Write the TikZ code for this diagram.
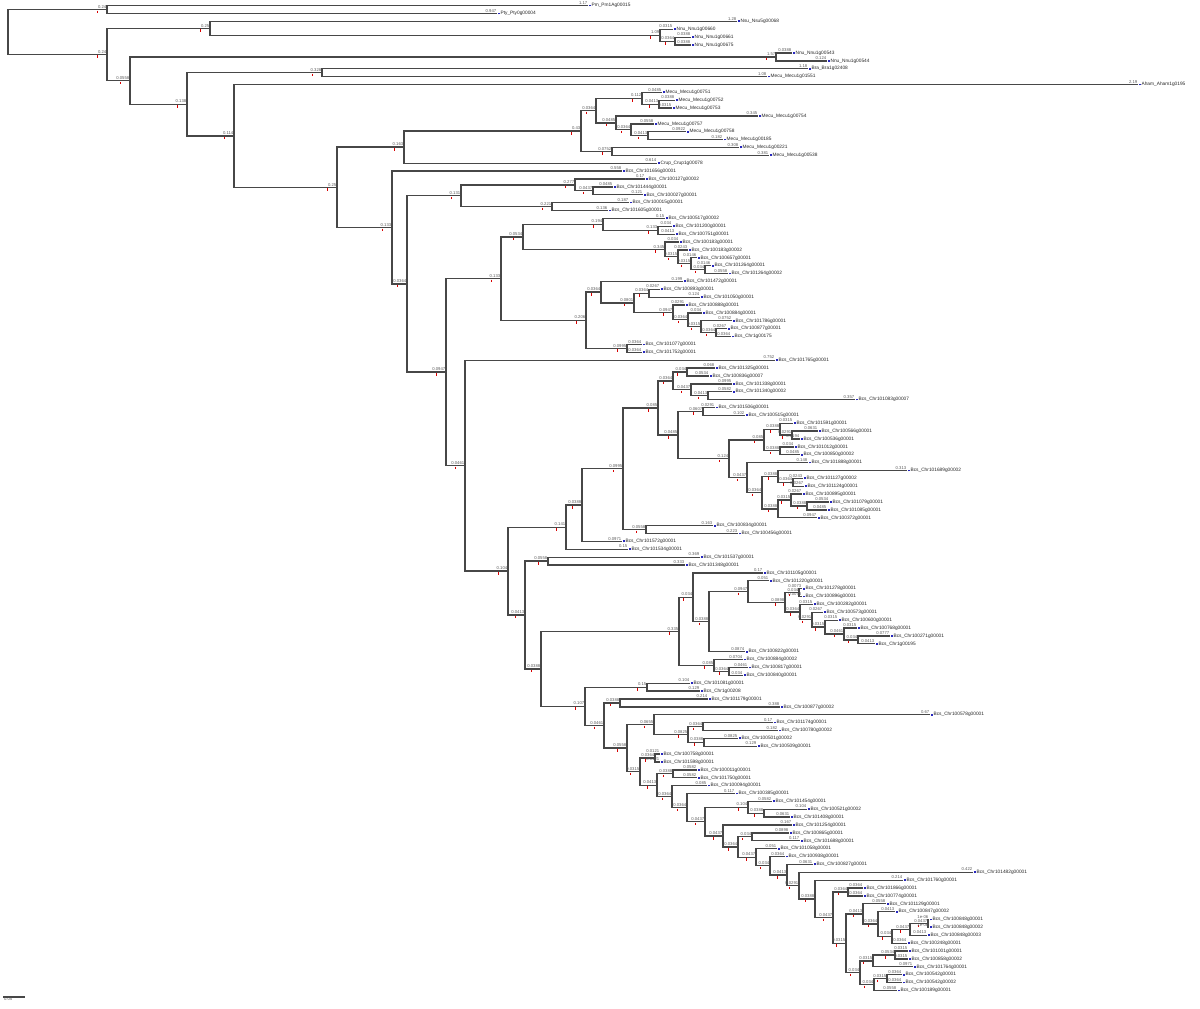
\documentclass[tikz,border=0pt]{standalone}
\usepackage{fontspec}
\setmainfont{Liberation Sans}
\usetikzlibrary{calc}

\definecolor{tipblue}{RGB}{40,40,190}
\newcommand{\tipfont}{\fontsize{2.4}{2.8}\selectfont}
\newcommand{\blenfont}{\fontsize{2.1}{2.4}\selectfont}
\pgfkeys{/pgf/number format/.cd,assume math mode=true}

% branch length label text, 3 significant digits
\newcommand{\lenfmt}[1]{\pgfmathsetmacro{\blval}{#1}%
  \ifdim\blval pt<0.003pt 1e-06\else
  \ifdim\blval pt<0.1pt \pgfmathprintnumber[fixed,precision=4]{\blval}\else
  \ifdim\blval pt<1pt \pgfmathprintnumber[fixed,precision=3]{\blval}\else
  \pgfmathprintnumber[fixed,precision=2]{\blval}\fi\fi\fi}

% leaf: name, row, tip x, gene id
\newcommand{\leaf}[4]{%
  \coordinate (#1) at (#3,{5.7+7.878*(#2-1)});
  \node[tip] (#1t) at (#1) {#4};}

% length of the branch parent -> child, written above it
\newcommand{\blen}[2]{%
  \path let \p1=(#1), \p2=(#2), \n1={(\x2-\x1)/206} in
    node[blen] at (#2) {\lenfmt{\n1}};}

% clade: name, x, upper child, lower child
\newcommand{\clade}[4]{%
  \path ($(#3)!.5!(#4)$) coordinate (m#1);
  \coordinate (#1) at (#2,0 |- m#1);
  \draw[branch] (#3) -| (#1) |- (#4);
  \draw[rtick] ($(#1)+(-10,1)$) -- ++(0,2.5);
  \blen{#1}{#3}\blen{#1}{#4}}

\begin{document}
\begin{tikzpicture}[x=0.5pt,y=-0.5pt,
    branch/.style={draw=black!72,line width=0.65pt},
    rtick/.style={draw=red!85!black,line width=0.35pt},
    blen/.style={anchor=south east,inner sep=0.2pt,yshift=0.25pt,font=\blenfont,text=black!65},
    tip/.style={anchor=west,inner xsep=0.3pt,inner ysep=0pt,font=\tipfont,text=black!85,
      execute at begin node={\textcolor{tipblue}{\rule[0.2pt]{0.9pt}{0.9pt}}\hspace{0.4pt}}}]
    \useasboundingbox (0,0) rectangle (1200,1008);

    % Leaves
    \leaf{t1}{1}{588}{Pm\_Pm1Ag00015}
    \leaf{t2}{2}{497}{Pty\_Pty0g00004}
    \leaf{t3}{3}{737}{Nsu\_Nsu5g00068}
    \leaf{t4}{4}{673}{Nnu\_Nnu1g00660}
    \leaf{t5}{5}{691}{Nnu\_Nnu1g00661}
    \leaf{t6}{6}{691}{Nnu\_Nnu1g00675}
    \leaf{t7}{7}{792}{Nnu\_Nnu1g00543}
    \leaf{t8}{8}{827}{Nnu\_Nnu1g00544}
    \leaf{t9}{9}{808}{Bra\_Bra1g02408}
    \leaf{t10}{10}{767}{Mecu\_Mecu1g01551}
    \leaf{t11}{11}{1138}{Aham\_Aham1g0195}
    \leaf{t12}{12}{662}{Mecu\_Mecu1g00751}
    \leaf{t13}{13}{675}{Mecu\_Mecu1g00752}
    \leaf{t14}{14}{672}{Mecu\_Mecu1g00753}
    \leaf{t15}{15}{758}{Mecu\_Mecu1g00754}
    \leaf{t16}{16}{654}{Mecu\_Mecu1g00757}
    \leaf{t17}{17}{686}{Mecu\_Mecu1g00758}
    \leaf{t18}{18}{723}{Mecu\_Mecu1g00185}
    \leaf{t19}{19}{739}{Mecu\_Mecu1g00221}
    \leaf{t20}{20}{769}{Mecu\_Mecu1g00538}
    \leaf{t21}{21}{657}{Crup\_Crup1g00078}
    \leaf{t22}{22}{622}{Bcs\_Chr101656g00001}
    \leaf{t23}{23}{645}{Bcs\_Chr100127g00002}
    \leaf{t24}{24}{613}{Bcs\_Chr101444g00001}
    \leaf{t25}{25}{643}{Bcs\_Chr100027g00001}
    \leaf{t26}{26}{629}{Bcs\_Chr100015g00001}
    \leaf{t27}{27}{608}{Bcs\_Chr101605g00001}
    \leaf{t28}{28}{665}{Bcs\_Chr100517g00002}
    \leaf{t29}{29}{672}{Bcs\_Chr101200g00001}
    \leaf{t30}{30}{675}{Bcs\_Chr100751g00001}
    \leaf{t31}{31}{679}{Bcs\_Chr100183g00001}
    \leaf{t32}{32}{688}{Bcs\_Chr100183g00002}
    \leaf{t33}{33}{697}{Bcs\_Chr100657g00001}
    \leaf{t34}{34}{711}{Bcs\_Chr101264g00001}
    \leaf{t35}{35}{728}{Bcs\_Chr101264g00002}
    \leaf{t36}{36}{683}{Bcs\_Chr101472g00001}
    \leaf{t37}{37}{660}{Bcs\_Chr100893g00001}
    \leaf{t38}{38}{700}{Bcs\_Chr101050g00001}
    \leaf{t39}{39}{685}{Bcs\_Chr100888g00001}
    \leaf{t40}{40}{702}{Bcs\_Chr100884g00001}
    \leaf{t41}{41}{732}{Bcs\_Chr101786g00001}
    \leaf{t42}{42}{727}{Bcs\_Chr100877g00001}
    \leaf{t43}{43}{731}{Bcs\_Chr1g00175}
    \leaf{t44}{44}{642}{Bcs\_Chr101077g00001}
    \leaf{t45}{45}{642}{Bcs\_Chr101752g00001}
    \leaf{t46}{46}{775}{Bcs\_Chr101765g00001}
    \leaf{t47}{47}{715}{Bcs\_Chr101325g00001}
    \leaf{t48}{48}{709}{Bcs\_Chr100836g00007}
    \leaf{t49}{49}{732}{Bcs\_Chr101338g00001}
    \leaf{t50}{50}{732}{Bcs\_Chr101340g00002}
    \leaf{t51}{51}{855}{Bcs\_Chr101083g00007}
    \leaf{t52}{52}{715}{Bcs\_Chr101506g00001}
    \leaf{t53}{53}{745}{Bcs\_Chr100515g00001}
    \leaf{t54}{54}{793}{Bcs\_Chr101591g00001}
    \leaf{t55}{55}{818}{Bcs\_Chr100566g00001}
    \leaf{t56}{56}{800}{Bcs\_Chr100536g00001}
    \leaf{t57}{57}{794}{Bcs\_Chr101012g00001}
    \leaf{t58}{58}{800}{Bcs\_Chr100850g00002}
    \leaf{t59}{59}{808}{Bcs\_Chr101888g00001}
    \leaf{t60}{60}{907}{Bcs\_Chr101689g00002}
    \leaf{t61}{61}{803}{Bcs\_Chr101127g00002}
    \leaf{t62}{62}{804}{Bcs\_Chr101124g00001}
    \leaf{t63}{63}{802}{Bcs\_Chr100895g00001}
    \leaf{t64}{64}{829}{Bcs\_Chr101079g00001}
    \leaf{t65}{65}{827}{Bcs\_Chr101085g00001}
    \leaf{t66}{66}{817}{Bcs\_Chr100372g00001}
    \leaf{t67}{67}{713}{Bcs\_Chr100834g00001}
    \leaf{t68}{68}{738}{Bcs\_Chr100456g00001}
    \leaf{t69}{69}{622}{Bcs\_Chr101572g00001}
    \leaf{t70}{70}{628}{Bcs\_Chr101534g00001}
    \leaf{t71}{71}{700}{Bcs\_Chr101537g00001}
    \leaf{t72}{72}{685}{Bcs\_Chr101348g00001}
    \leaf{t73}{73}{763}{Bcs\_Chr101105g00001}
    \leaf{t74}{74}{769}{Bcs\_Chr101220g00001}
    \leaf{t75}{75}{802}{Bcs\_Chr101278g00001}
    \leaf{t76}{76}{802}{Bcs\_Chr100896g00001}
    \leaf{t77}{77}{813}{Bcs\_Chr100282g00001}
    \leaf{t78}{78}{823}{Bcs\_Chr100573g00001}
    \leaf{t79}{79}{838}{Bcs\_Chr100600g00001}
    \leaf{t80}{80}{857}{Bcs\_Chr100768g00001}
    \leaf{t81}{81}{890}{Bcs\_Chr100271g00001}
    \leaf{t82}{82}{875}{Bcs\_Chr1g00195}
    \leaf{t83}{83}{745}{Bcs\_Chr100822g00001}
    \leaf{t84}{84}{743}{Bcs\_Chr100884g00002}
    \leaf{t85}{85}{748}{Bcs\_Chr100817g00001}
    \leaf{t86}{86}{743}{Bcs\_Chr100840g00001}
    \leaf{t87}{87}{690}{Bcs\_Chr101081g00001}
    \leaf{t88}{88}{700}{Bcs\_Chr1g00208}
    \leaf{t89}{89}{708}{Bcs\_Chr101179g00001}
    \leaf{t90}{90}{780}{Bcs\_Chr100877g00002}
    \leaf{t91}{91}{930}{Bcs\_Chr100578g00001}
    \leaf{t92}{92}{773}{Bcs\_Chr101174g00001}
    \leaf{t93}{93}{778}{Bcs\_Chr100780g00002}
    \leaf{t94}{94}{738}{Bcs\_Chr100501g00002}
    \leaf{t95}{95}{757}{Bcs\_Chr100509g00001}
    \leaf{t96}{96}{660}{Bcs\_Chr100758g00001}
    \leaf{t97}{97}{660}{Bcs\_Chr101598g00001}
    \leaf{t98}{98}{697}{Bcs\_Chr100011g00001}
    \leaf{t99}{99}{697}{Bcs\_Chr101750g00001}
    \leaf{t100}{100}{707}{Bcs\_Chr100094g00001}
    \leaf{t101}{101}{735}{Bcs\_Chr100385g00001}
    \leaf{t102}{102}{772}{Bcs\_Chr101454g00001}
    \leaf{t103}{103}{807}{Bcs\_Chr100521g00002}
    \leaf{t104}{104}{790}{Bcs\_Chr101408g00001}
    \leaf{t105}{105}{792}{Bcs\_Chr101254g00001}
    \leaf{t106}{106}{789}{Bcs\_Chr100865g00001}
    \leaf{t107}{107}{800}{Bcs\_Chr101688g00001}
    \leaf{t108}{108}{777}{Bcs\_Chr101058g00001}
    \leaf{t109}{109}{785}{Bcs\_Chr100938g00001}
    \leaf{t110}{110}{813}{Bcs\_Chr100827g00001}
    \leaf{t111}{111}{973}{Bcs\_Chr101482g00001}
    \leaf{t112}{112}{903}{Bcs\_Chr101760g00001}
    \leaf{t113}{113}{863}{Bcs\_Chr101866g00001}
    \leaf{t114}{114}{863}{Bcs\_Chr100774g00001}
    \leaf{t115}{115}{886}{Bcs\_Chr101129g00001}
    \leaf{t116}{116}{895}{Bcs\_Chr100847g00002}
    \leaf{t117}{117}{929}{Bcs\_Chr100848g00001}
    \leaf{t118}{118}{929}{Bcs\_Chr100848g00002}
    \leaf{t119}{119}{927}{Bcs\_Chr100848g00003}
    \leaf{t120}{120}{907}{Bcs\_Chr100248g00001}
    \leaf{t121}{121}{908}{Bcs\_Chr101001g00001}
    \leaf{t122}{122}{908}{Bcs\_Chr100858g00002}
    \leaf{t123}{123}{913}{Bcs\_Chr101764g00001}
    \leaf{t124}{124}{902}{Bcs\_Chr100542g00001}
    \leaf{t125}{125}{902}{Bcs\_Chr100542g00002}
    \leaf{t126}{126}{897}{Bcs\_Chr100189g00001}

    % Outgroups
    \clade{a}{107}{t1}{t2}
    \clade{e}{675}{t5}{t6}
    \clade{d}{660}{t4}{e}
    \clade{c}{210}{t3}{d}
    \clade{g}{776}{t7}{t8}
    \clade{i}{322}{t9}{t10}

    % Mecu clade
    \clade{s}{659}{t13}{t14}
    \clade{q}{642}{t12}{s}
    \clade{u}{648}{t17}{t18}
    \clade{tt}{631}{t16}{u}
    \clade{r}{616}{t15}{tt}
    \clade{o}{596}{q}{r}
    \clade{p}{612}{t19}{t20}
    \clade{n}{581}{o}{p}
    \clade{l}{404}{n}{t21}

    % Bcs, upper part
    \clade{w3}{593}{t24}{t25}
    \clade{w1}{575}{t23}{w3}
    \clade{w2}{552}{t26}{t27}
    \clade{w}{461}{w1}{w2}
    \clade{y1a}{658}{t29}{t30}
    \clade{y1}{603}{t28}{y1a}
    \clade{y5}{705}{t34}{t35}
    \clade{y4}{691}{t33}{y5}
    \clade{y3}{678}{t32}{y4}
    \clade{y2}{665}{t31}{y3}
    \clade{y}{523}{y1}{y2}
    \clade{ae}{649}{t37}{t38}
    \clade{ai}{716}{t42}{t43}
    \clade{ah}{701}{t41}{ai}
    \clade{ag}{688}{t40}{ah}
    \clade{af}{673}{t39}{ag}
    \clade{ad}{634}{ae}{af}
    \clade{ab}{601}{t36}{ad}
    \clade{ac}{627}{t44}{t45}
    \clade{aa}{586}{ab}{ac}
    \clade{z}{501}{y}{aa}

    % Bcs, middle part
    \clade{p6}{687}{t47}{t48}
    \clade{p8}{708}{t50}{t51}
    \clade{p7}{691}{t49}{p8}
    \clade{p4}{673}{p6}{p7}
    \clade{p9}{703}{t52}{t53}
    \clade{q2}{792}{t55}{t56}
    \clade{q1}{780}{t54}{q2}
    \clade{q3}{780}{t57}{t58}
    \clade{p11}{764}{q1}{q3}
    \clade{p17}{793}{t61}{t62}
    \clade{p15}{778}{t60}{p17}
    \clade{p19}{807}{t64}{t65}
    \clade{p18}{791}{t63}{p19}
    \clade{p16}{778}{p18}{t66}
    \clade{p14}{762}{p15}{p16}
    \clade{p12}{747}{t59}{p14}
    \clade{p10}{729}{p11}{p12}
    \clade{p5}{678}{p9}{p10}
    \clade{p2}{658}{p4}{p5}
    \clade{p3}{646}{t67}{t68}
    \clade{p1}{623}{p2}{p3}
    \clade{x6}{582}{p1}{t69}
    \clade{x4}{566}{x6}{t70}
    \clade{x8}{548}{t71}{t72}

    % Bcs, lower part
    \clade{v13}{799}{t75}{t76}
    \clade{v18}{858}{t81}{t82}
    \clade{v17}{844}{t80}{v18}
    \clade{v16}{825}{t79}{v17}
    \clade{v15}{812}{t78}{v16}
    \clade{v14}{800}{t77}{v15}
    \clade{v12}{785}{v13}{v14}
    \clade{v11}{748}{t74}{v12}
    \clade{v10}{709}{v11}{t83}
    \clade{v8}{693}{t73}{v10}
    \clade{v19}{729}{t85}{t86}
    \clade{v9}{714}{t84}{v19}
    \clade{v6}{679}{v8}{v9}
    \clade{v20}{647}{t87}{t88}
    \clade{v22}{620}{t89}{t90}
    \clade{v27}{703}{t92}{t93}
    \clade{v28}{704}{t94}{t95}
    \clade{v26}{688}{v27}{v28}
    \clade{v24}{654}{t91}{v26}
    \clade{v29}{655}{t96}{t97}
    \clade{v31}{673}{t98}{t99}
    \clade{v37}{764}{t103}{t104}
    \clade{v35}{748}{t102}{v37}
    \clade{v39}{752}{t106}{t107}
    \clade{v53}{928}{t117}{t118}
    \clade{v52}{910}{v53}{t119}
    \clade{v51}{892}{v52}{t120}
    \clade{v50}{878}{t116}{v51}
    \clade{v48}{863}{t115}{v50}
    \clade{v56}{895}{t121}{t122}
    \clade{v54}{873}{v56}{t123}
    \clade{v57}{887}{t124}{t125}
    \clade{v55}{874}{v57}{t126}
    \clade{v49}{860}{v54}{v55}
    \clade{v47}{846}{v48}{v49}
    \clade{v46}{848}{t113}{t114}
    \clade{v45}{833}{v46}{v47}
    \clade{v44}{815}{t112}{v45}
    \clade{v43}{799}{t111}{v44}
    \clade{v42}{787}{t110}{v43}
    \clade{v41}{770}{t109}{v42}
    \clade{v40}{756}{t108}{v41}
    \clade{v38}{738}{v39}{v40}
    \clade{v36}{723}{t105}{v38}
    \clade{v34}{705}{v35}{v36}
    \clade{v33}{687}{t101}{v34}
    \clade{v32}{672}{t100}{v33}
    \clade{v30}{657}{v31}{v32}
    \clade{v25}{640}{v29}{v30}
    \clade{v23}{627}{v24}{v25}
    \clade{v21}{604}{v22}{v23}
    \clade{v7}{585}{v20}{v21}
    \clade{x9}{541}{v6}{v7}
    \clade{x7}{525}{x8}{x9}
    \clade{x3}{508}{x4}{x7}
    \clade{x2}{465}{t46}{x3}

    % Backbone
    \clade{x}{446}{z}{x2}
    \clade{v}{407}{w}{x}
    \clade{m}{392}{t22}{v}
    \clade{k}{337}{l}{m}
    \clade{j}{234}{t11}{k}
    \clade{h}{187}{i}{j}
    \clade{f}{130}{g}{h}
    \clade{b}{107}{c}{f}
    \clade{root}{8}{a}{b}

    % Scale bar
    \coordinate (sb1) at (3,997);
    \coordinate (sb2) at (25,997);
    \draw[branch] (sb1) -- (sb2);
    \node[font=\blenfont,text=black!65,anchor=north west,inner sep=0.3pt] (sbl) at (sb1) {0.05};
\end{tikzpicture}
\end{document}
